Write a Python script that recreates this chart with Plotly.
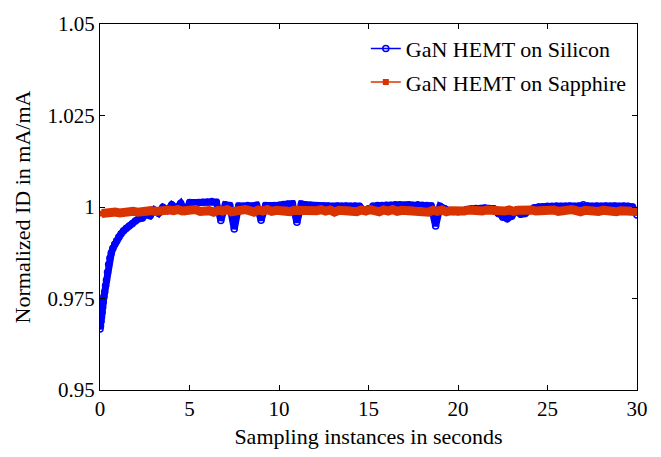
import plotly.graph_objects as go

# ---- data ----
silicon_t = [
    0.00, 0.03, 0.06, 0.09, 0.12, 0.15, 0.18, 0.22, 0.26, 0.31,
    0.36, 0.42, 0.48, 0.55, 0.63, 0.72, 0.82, 0.93, 1.05, 1.18,
    1.32, 1.47, 1.63, 1.80, 1.98, 2.17, 2.37, 2.58, 2.80, 3.03,
    3.27, 3.51, 3.76, 4.01, 4.26, 4.51, 4.76, 5.01,
    5.25, 5.5, 5.75, 6.0, 6.25, 6.5, 6.75, 7.0, 7.25, 7.5,
    7.75, 8.0, 8.25, 8.5, 8.75, 9.0, 9.25, 9.5, 9.75, 10.0,
    10.25, 10.5, 10.75, 11.0, 11.25, 11.5, 11.75, 12.0, 12.25, 12.5,
    12.75, 13.0, 13.25, 13.5, 13.75, 14.0, 14.25, 14.5, 14.75, 15.0,
    15.25, 15.5, 15.75, 16.0, 16.25, 16.5, 16.75, 17.0, 17.25, 17.5,
    17.75, 18.0, 18.25, 18.5, 18.75, 19.0, 19.25, 19.5, 19.75, 20.0,
    20.25, 20.5, 20.75, 21.0, 21.25, 21.5, 21.75, 22.0, 22.25, 22.5,
    22.75, 23.0, 23.25, 23.5, 23.75, 24.0, 24.25, 24.5, 24.75, 25.0,
    25.25, 25.5, 25.75, 26.0, 26.25, 26.5, 26.75, 27.0, 27.25, 27.5,
    27.75, 28.0, 28.25, 28.5, 28.75, 29.0, 29.25, 29.5, 29.75, 30.0,
]
silicon_id = [
    0.9667, 0.9675, 0.9688, 0.9700, 0.9712, 0.9726, 0.9740, 0.9755, 0.9768, 0.9785,
    0.9800, 0.9822, 0.9843, 0.9860, 0.9874, 0.9887, 0.9898, 0.9908, 0.9918, 0.9927,
    0.9935, 0.9942, 0.9948, 0.9954, 0.9962, 0.9968, 0.9970, 0.9980, 0.9976, 0.9992,
    0.9983, 0.9999, 0.9991, 1.0006, 0.9997, 1.0010, 0.9988, 1.0012,
    1.0010, 1.0012, 1.0013, 1.0014, 1.0015, 1.0013, 0.9963, 1.0006, 1.0004, 0.9940,
    1.0003, 1.0002, 1.0004, 1.0003, 1.0005, 0.9964, 1.0004, 1.0003, 1.0004, 1.0005,
    1.0007, 1.0008, 1.0009, 0.9958, 1.0008, 1.0006, 1.0005, 1.0003, 1.0002, 1.0003,
    1.0003, 1.0002, 1.0003, 1.0002, 1.0003, 1.0002, 1.0003, 1.0002, 0.9990, 0.9995,
    1.0003, 1.0004, 1.0004, 1.0005, 1.0005, 1.0006, 1.0006, 1.0005, 1.0006, 1.0005,
    1.0006, 1.0005, 1.0004, 1.0003, 0.9948, 1.0002, 0.9995, 0.9990, 0.9988, 0.9987,
    0.9990, 0.9993, 0.9995, 0.9996, 0.9996, 0.9997, 0.9996, 0.9995, 0.9982, 0.9972,
    0.9968, 0.9975, 0.9990, 0.9980, 0.9982, 0.9992, 0.9998, 1.0000, 1.0001, 1.0002,
    1.0002, 1.0003, 1.0002, 1.0002, 1.0003, 1.0002, 1.0003, 1.0006, 1.0003, 1.0002,
    1.0003, 1.0002, 1.0003, 1.0002, 1.0003, 1.0002, 1.0003, 1.0002, 1.0000, 0.9978,
]

sapphire_t = [
    0.10, 0.35, 0.60, 0.85, 1.10, 1.35, 1.60, 1.85, 2.10, 2.35,
    2.60, 2.85, 3.10, 3.35, 3.60, 3.85, 4.10, 4.35, 4.60, 4.85,
    5.10, 5.35, 5.60, 5.85, 6.10, 6.35, 6.60, 6.85, 7.10, 7.35,
    7.60, 7.85, 8.10, 8.35, 8.60, 8.85, 9.10, 9.35, 9.60, 9.85,
    10.10, 10.35, 10.60, 10.85, 11.10, 11.35, 11.60, 11.85, 12.10, 12.35,
    12.60, 12.85, 13.10, 13.35, 13.60, 13.85, 14.10, 14.35, 14.60, 14.85,
    15.10, 15.35, 15.60, 15.85, 16.10, 16.35, 16.60, 16.85, 17.10, 17.35,
    17.60, 17.85, 18.10, 18.35, 18.60, 18.85, 19.10, 19.35, 19.60, 19.85,
    20.10, 20.35, 20.60, 20.85, 21.10, 21.35, 21.60, 21.85, 22.10, 22.35,
    22.60, 22.85, 23.10, 23.35, 23.60, 23.85, 24.10, 24.35, 24.60, 24.85,
    25.10, 25.35, 25.60, 25.85, 26.10, 26.35, 26.60, 26.85, 27.10, 27.35,
    27.60, 27.85, 28.10, 28.35, 28.60, 28.85, 29.10, 29.35, 29.60, 29.85,
    30.00,
]
sapphire_id = [
    0.9982, 0.9985, 0.9983, 0.9986, 0.9984, 0.9987, 0.9985, 0.9988, 0.9986, 0.9989,
    0.9987, 0.9990, 0.9988, 0.9991, 0.9989, 0.9992, 0.9990, 0.9993, 0.9989, 0.9992,
    0.9990, 0.9993, 0.9988, 0.9992, 0.9990, 0.9986, 0.9991, 0.9989, 0.9993, 0.9987,
    0.9991, 0.9989, 0.9993, 0.9990, 0.9986, 0.9992, 0.9989, 0.9993, 0.9988, 0.9991,
    0.9989, 0.9993, 0.9987, 0.9991, 0.9990, 0.9994, 0.9988, 0.9992, 0.9990, 0.9993,
    0.9989, 0.9992, 0.9986, 0.9991, 0.9989, 0.9993, 0.9990, 0.9987, 0.9992, 0.9989,
    0.9993, 0.9990, 0.9987, 0.9992, 0.9989, 0.9993, 0.9988, 0.9991, 0.9990, 0.9993,
    0.9988, 0.9992, 0.9989, 0.9986, 0.9991, 0.9988, 0.9992, 0.9987, 0.9990, 0.9988,
    0.9991, 0.9989, 0.9992, 0.9990, 0.9993, 0.9989, 0.9992, 0.9990, 0.9987, 0.9991,
    0.9989, 0.9992, 0.9988, 0.9991, 0.9993, 0.9990, 0.9992, 0.9989, 0.9991, 0.9993,
    0.9990, 0.9992, 0.9988, 0.9991, 0.9989, 0.9993, 0.9990, 0.9987, 0.9991, 0.9989,
    0.9992, 0.9988, 0.9991, 0.9989, 0.9992, 0.9987, 0.9990, 0.9988, 0.9991, 0.9986,
    0.9988,
]

x_ticks = [0, 5, 10, 15, 20, 25, 30]
y_ticks = [0.95, 0.975, 1.0, 1.025, 1.05]
y_tick_labels = ["0.95", "0.975", "1", "1.025", "1.05"]

FONT = "'Liberation Serif', 'Times New Roman', serif"
BLUE = "#0000FF"
RED = "#D93300"

fig = go.Figure()
fig.add_trace(go.Scatter(
    x=silicon_t, y=silicon_id, mode="lines", showlegend=False, hoverinfo="skip",
    line=dict(color=BLUE, width=7),
))
fig.add_trace(go.Scatter(
    x=silicon_t, y=silicon_id, mode="lines+markers",
    name="GaN HEMT on Silicon", legendgroup="si",
    line=dict(color=BLUE, width=1.5),
    marker=dict(symbol="circle-open", size=6, color=BLUE, line=dict(width=1.5, color=BLUE)),
))
fig.add_trace(go.Scatter(
    x=sapphire_t, y=sapphire_id, mode="lines", showlegend=False, hoverinfo="skip",
    line=dict(color=RED, width=9),
))
fig.add_trace(go.Scatter(
    x=sapphire_t, y=sapphire_id, mode="lines+markers",
    name="GaN HEMT on Sapphire", legendgroup="sa",
    line=dict(color=RED, width=1.5),
    marker=dict(symbol="square", size=6, color=RED, line=dict(width=0)),
))

axis_common = dict(
    showline=True, linecolor="black", linewidth=1, mirror="allticks",
    ticks="inside", ticklen=5, tickwidth=1, tickcolor="black",
    showgrid=False, zeroline=False,
    tickfont=dict(family=FONT, size=21, color="black"),
)

fig.update_xaxes(range=[0, 30], tickvals=x_ticks, ticktext=[str(v) for v in x_ticks],
                 title=dict(text="Sampling instances in seconds",
                            font=dict(family=FONT, size=22, color="black"), standoff=8),
                 **axis_common)
fig.update_yaxes(range=[0.95, 1.05], tickvals=y_ticks, ticktext=y_tick_labels,
                 title=dict(text="Normalized ID in mA/mA",
                            font=dict(family=FONT, size=22, color="black"), standoff=10),
                 **axis_common)

fig.update_layout(
    width=661, height=457,
    margin=dict(l=100, r=24, t=16, b=67),
    paper_bgcolor="white", plot_bgcolor="white",
    font=dict(family=FONT, size=21, color="black"),
    legend=dict(x=0.495, xanchor="left", y=0.99, yanchor="top",
                bgcolor="rgba(255,255,255,0)", borderwidth=0,
                font=dict(family=FONT, size=22, color="black"),
                tracegroupgap=2),
    showlegend=True,
)

fig.write_html("out.html")
